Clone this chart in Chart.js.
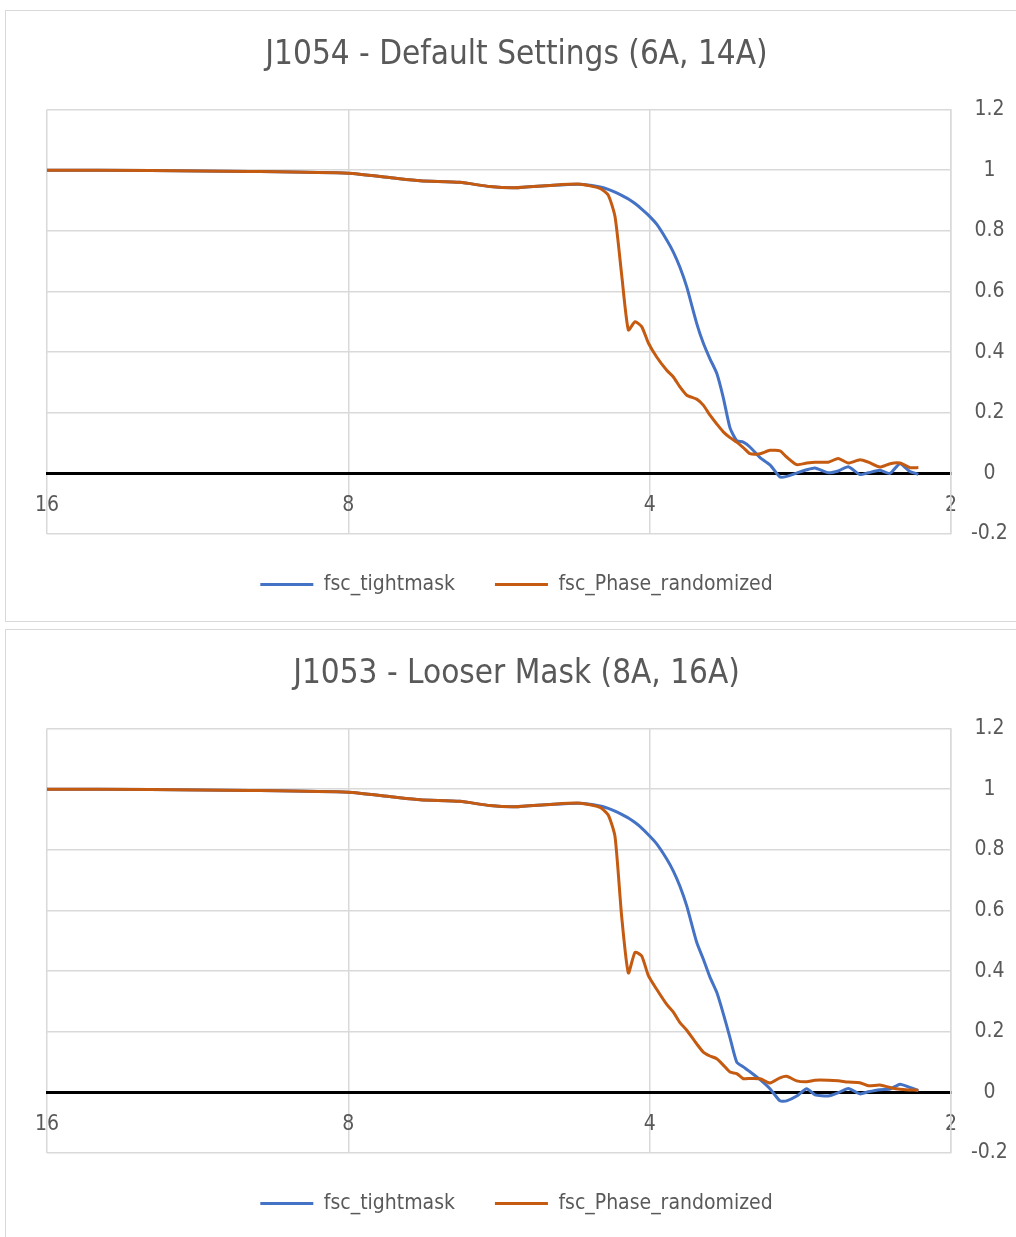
<!DOCTYPE html>
<html>
<head>
<meta charset="utf-8">
<script src="https://cdn.jsdelivr.net/npm/chart.js@4.4.1/dist/chart.umd.min.js"></script>
<style>
  body { margin: 0; background: #fff; overflow: hidden; }
  .box { position: absolute; left: 5px; width: 1021px; height: 610px; border: 1px solid #d9d9d9; overflow: hidden; }
  #box1 { top: 10px; }
  #box2 { top: 629px; }
</style>
</head>
<body>
<div class="box" id="box1"><canvas id="chart1" width="1021" height="610"></canvas></div>
<div class="box" id="box2"><canvas id="chart2" width="1021" height="610"></canvas></div>
<script>
// resolution in Angstrom (x)
const resolution = [16, 12.62, 10.03, 8, 7.25, 6.78, 6.19, 5.775, 5.452, 5.03,
  4.695, 4.484, 4.40, 4.332, 4.266, 4.201, 4.137, 4.074, 4.012, 3.936,
  3.846, 3.788, 3.731, 3.673, 3.590, 3.536, 3.482, 3.428, 3.377, 3.325,
  3.274, 3.225, 3.176, 3.103, 3.033, 2.964, 2.919, 2.852, 2.787, 2.735,
  2.652, 2.592, 2.533, 2.466, 2.419, 2.355, 2.301, 2.249, 2.198, 2.156];

const xTicks = [16, 8, 4, 2];
const seriesNames = ['fsc_tightmask', 'fsc_Phase_randomized'];
const titles = ['J1054 - Default Settings (6A, 14A)', 'J1053 - Looser Mask (8A, 16A)'];

// J1054
const tight1054 = [1.0, 0.999, 0.996, 0.99, 0.975, 0.965, 0.96, 0.946, 0.942, 0.95,
  0.954, 0.945, 0.937, 0.928, 0.917, 0.905, 0.89, 0.872, 0.852, 0.822,
  0.77, 0.73, 0.68, 0.615, 0.495, 0.43, 0.378, 0.33, 0.25, 0.15,
  0.108, 0.103, 0.087, 0.052, 0.028, -0.012, -0.01, 0.001, 0.012, 0.018,
  0.002, 0.008, 0.022, -0.004, 0.002, 0.01, 0.0, 0.032, 0.006, -0.003];
const phase1054 = [1.0, 0.999, 0.996, 0.99, 0.975, 0.965, 0.96, 0.946, 0.942, 0.95,
  0.954, 0.94, 0.918, 0.847, 0.655, 0.473, 0.50, 0.484, 0.43, 0.384,
  0.34, 0.318, 0.285, 0.258, 0.245, 0.225, 0.192, 0.163, 0.137, 0.118,
  0.103, 0.085, 0.065, 0.065, 0.076, 0.074, 0.054, 0.029, 0.034, 0.037,
  0.037, 0.049, 0.034, 0.045, 0.037, 0.021, 0.032, 0.034, 0.019, 0.019];

// J1053
const tight1053 = [1.0, 0.999, 0.996, 0.99, 0.975, 0.965, 0.96, 0.946, 0.942, 0.95,
  0.954, 0.945, 0.937, 0.928, 0.917, 0.905, 0.89, 0.872, 0.85, 0.82,
  0.77, 0.73, 0.68, 0.615, 0.495, 0.44, 0.38, 0.33, 0.26, 0.18,
  0.1, 0.084, 0.068, 0.042, 0.012, -0.028, -0.028, -0.012, 0.012, -0.008,
  -0.012, -0.001, 0.013, -0.005, 0.002, 0.009, 0.011, 0.027, 0.016, 0.006];
const phase1053 = [1.0, 0.999, 0.996, 0.99, 0.975, 0.965, 0.96, 0.946, 0.942, 0.95,
  0.954, 0.94, 0.915, 0.844, 0.58, 0.394, 0.462, 0.45, 0.385, 0.34,
  0.29, 0.265, 0.23, 0.205, 0.16, 0.133, 0.12, 0.111, 0.09, 0.067,
  0.062, 0.045, 0.046, 0.045, 0.031, 0.048, 0.053, 0.038, 0.035, 0.04,
  0.04, 0.038, 0.034, 0.032, 0.022, 0.024, 0.016, 0.01, 0.008, 0.007];

Chart.defaults.font.family = "'Liberation Sans Narrow', 'DejaVu Sans Condensed', sans-serif";
Chart.defaults.color = '#595959';

function points(values) {
  return resolution.map((r, i) => ({ x: r, y: values[i] }));
}

function makeChart(id, title, tight, phase) {
  return new Chart(document.getElementById(id), {
    type: 'line',
    data: {
      datasets: [
        { label: seriesNames[0], data: points(tight), yAxisID: 'y', borderColor: '#4472C4', backgroundColor: '#4472C4', borderWidth: 3, order: 1 },
        { label: seriesNames[1], data: points(phase), yAxisID: 'y', borderColor: '#C55A11', backgroundColor: '#C55A11', borderWidth: 3, order: 0 }
      ]
    },
    options: {
      responsive: false,
      animation: false,
      layout: { padding: { left: 0, right: 0, top: 0, bottom: 16 } },
      elements: {
        point: { radius: 0 },
        line: { tension: 0.2 }
      },
      plugins: {
        title: {
          display: true,
          text: title,
          color: '#595959',
          font: { size: 33, weight: 'normal' },
          padding: { top: 25, bottom: 34 }
        },
        legend: {
          position: 'bottom',
          labels: {
            usePointStyle: true,
            pointStyle: 'line',
            pointStyleWidth: 53,
            padding: 40,
            color: '#595959',
            font: { size: 21 },
            sort: (a, b) => a.datasetIndex - b.datasetIndex
          }
        },
        tooltip: { enabled: false }
      },
      scales: {
        x: {
          type: 'logarithmic',
          reverse: true,
          min: 2,
          max: 16,
          position: { y: 0 },
          afterBuildTicks: s => { s.ticks = xTicks.map(v => ({ value: v })); },
          ticks: {
            callback: v => String(v),
            autoSkip: false,
            maxRotation: 0,
            padding: 20,
            font: { size: 21 }
          },
          grid: { color: '#d9d9d9', lineWidth: 1.5, drawTicks: false },
          border: { color: '#000', width: 3 }
        },
        y: {
          position: 'right',
          min: -0.2,
          max: 1.2,
          ticks: {
            stepSize: 0.2,
            callback: v => String(+v.toFixed(1)),
            padding: 20,
            crossAlign: 'center',
            font: { size: 21 }
          },
          grid: { color: '#d9d9d9', lineWidth: 1.5, drawTicks: false },
          border: { color: '#d9d9d9', width: 1.5 },
          afterFit: s => { s.width = 76; }
        },
        // empty left axis that only reserves the left margin
        yPad: {
          position: 'left',
          display: true,
          ticks: { display: false },
          grid: { display: false, drawTicks: false },
          border: { display: false },
          afterFit: s => { s.width = 41; }
        }
      }
    }
  });
}

makeChart('chart1', titles[0], tight1054, phase1054);
makeChart('chart2', titles[1], tight1053, phase1053);
</script>
</body>
</html>
